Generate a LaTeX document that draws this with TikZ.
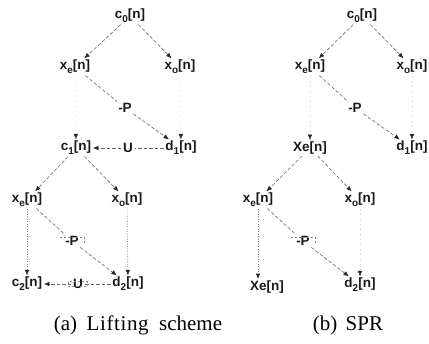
\documentclass[tikz,border=0pt]{standalone}
\usepackage{fontspec}
\setmainfont{Liberation Sans}
\newfontfamily\capfont{Liberation Serif}
\usetikzlibrary{arrows.meta}
\newcommand\lsub[1]{\raisebox{-0.55ex}{\fontsize{10}{10}\selectfont #1}}
\begin{document}
\begin{tikzpicture}[x=1pt,y=-1pt,
  lbl/.style={font=\bfseries\fontsize{13.5}{14}\selectfont, text=black!90, inner sep=1.5pt},
  captxt/.style={font=\capfont\fontsize{21}{22}\selectfont, inner sep=0pt, anchor=base},
  tip/.style={-{Latex[length=5.5pt,width=4.5pt,color=black!85]}},
  ln/.style={draw=black!60, line width=0.6pt, dash pattern=on 3.5pt off 2pt},
  arr/.style={ln, tip},
  dots/.style={draw=black!50, line width=0.6pt, dash pattern=on 1pt off 1.5pt, tip},
  faint/.style={draw=black!20, line width=0.5pt, dash pattern=on 1pt off 4pt, tip},
  boxln/.style={draw=black!45, line width=0.5pt, dash pattern=on 2pt off 2pt}]
\useasboundingbox (0,0) rectangle (429,344);

% ---------- (a) Lifting scheme ----------
\node[lbl] (a0)  at (130,16)  {c\lsub{0}[n]};
\node[lbl] (axe) at (75,67)   {x\lsub{e}[n]};
\node[lbl] (axo) at (180,67)  {x\lsub{o}[n]};
\node[lbl] (aP)  at (125,108) {-P};
\node[lbl] (ac1) at (76,148)  {c\lsub{1}[n]};
\node[lbl] (aU)  at (128,148) {U};
\node[lbl] (ad1) at (181,148) {d\lsub{1}[n]};
\node[lbl] (bxe) at (27,200)  {x\lsub{e}[n]};
\node[lbl] (bxo) at (127,200) {x\lsub{o}[n]};
\node[lbl] (bP)  at (72,241)  {-P};
\node[lbl] (ac2) at (27,284)  {c\lsub{2}[n]};
\node[lbl] (bU)  at (78,284)  {U};
\node[lbl] (ad2) at (128,284) {d\lsub{2}[n]};

\draw[arr] (a0) -- (axe);
\draw[arr] (a0) -- (axo);
\draw[ln]  (axe) -- (aP);
\draw[arr] (aP) -- (ad1);
\draw[faint] (axe) -- (ac1);
\draw[faint] (axo) -- (ad1);
\draw[ln]  (ad1) -- (aU);
\draw[arr] (aU) -- (ac1);
\draw[arr] (ac1) -- (bxe);
\draw[arr] (ac1) -- (bxo);
\draw[dots] (bxe) -- (ac2);
\draw[ln]  (bxe) -- (bP);
\draw[arr] (bP) -- (ad2);
\draw[dots] (bxo) -- (ad2);
\draw[ln]  (ad2) -- (bU);
\draw[arr] (bU) -- (ac2);
\draw[boxln] ([xshift=-3pt,yshift=-4pt]bU.north west) rectangle ([xshift=3pt,yshift=4pt]bU.south east);
\draw[boxln] ([xshift=-4pt,yshift=-3pt]bP.north west) -- ([xshift=4pt,yshift=-3pt]bP.north east) -- ([xshift=4pt,yshift=4pt]bP.south east);

% ---------- (b) SPR ----------
\node[lbl] (r0)  at (362,16)  {c\lsub{0}[n]};
\node[lbl] (rxe) at (310,67)  {x\lsub{e}[n]};
\node[lbl] (rxo) at (412,67)  {x\lsub{o}[n]};
\node[lbl] (rP)  at (355,108) {-P};
\node[lbl] (rXe) at (310,148) {Xe[n]};
\node[lbl] (rd1) at (412,148) {d\lsub{1}[n]};
\node[lbl] (sxe) at (258,200) {x\lsub{e}[n]};
\node[lbl] (sxo) at (360,200) {x\lsub{o}[n]};
\node[lbl] (sP)  at (303,241) {-P};
\node[lbl] (sXe) at (267,287) {Xe[n]};
\node[lbl] (rd2) at (360,285) {d\lsub{2}[n]};

\draw[arr] (r0) -- (rxe);
\draw[arr] (r0) -- (rxo);
\draw[ln]  (rxe) -- (rP);
\draw[arr] (rP) -- (rd1);
\draw[faint] (rxe) -- (rXe);
\draw[faint] (rxo) -- (rd1);
\draw[arr] (rXe) -- (sxe);
\draw[arr] (rXe) -- (sxo);
\draw[dots] (sxe.south) -- (sxe.south |- sXe.north);
\draw[ln]  (sxe) -- (sP);
\draw[arr] (sP) -- (rd2);
\draw[faint] (sxo) -- (rd2);
\draw[boxln] ([xshift=-4pt,yshift=-3pt]sP.north west) -- ([xshift=4pt,yshift=-3pt]sP.north east) -- ([xshift=4pt,yshift=4pt]sP.south east);

% ---------- captions ----------
\node[captxt] (capa) at (138,331) {(a)\hspace{0.45em}L\kern0.6pt i\kern0.6pt f\kern0.6pt t\kern0.6pt i\kern0.6pt n\kern0.6pt g\hspace{0.5em}scheme};
\node[captxt] (capb) at (348,331) {(b)\hspace{0.4em}SPR};
\end{tikzpicture}
\end{document}
